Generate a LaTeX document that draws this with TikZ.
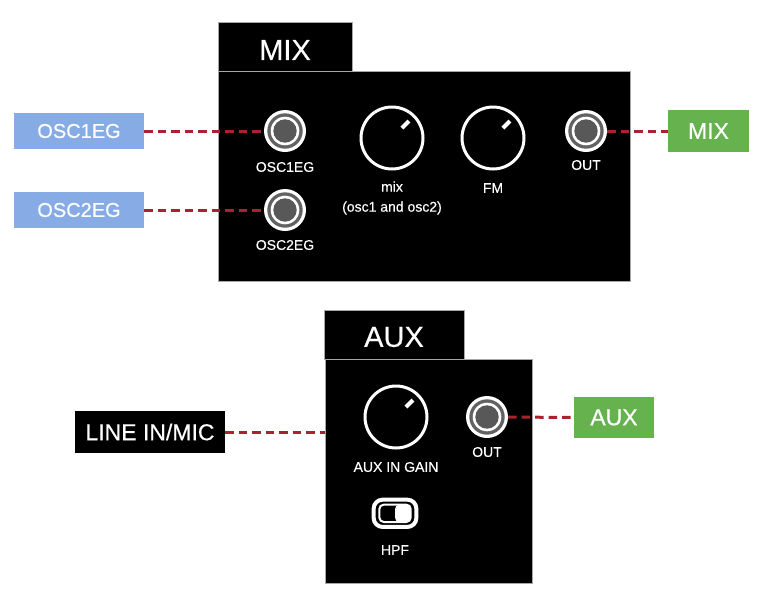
\documentclass[tikz,border=0pt]{standalone}
\usepackage{fontspec}
\setmainfont{Liberation Sans}[FakeBold=0.4]
\definecolor{oscblue}{HTML}{86ABE5}
\definecolor{outgreen}{HTML}{65B24F}
\definecolor{dashred}{HTML}{A8232F}
\definecolor{jackring}{HTML}{626262}
\definecolor{jackcore}{HTML}{585858}
\tikzset{
  panel/.style={rectangle, fill=black, draw=gray!70, line width=0.8pt, inner sep=0pt},
  title/.style={text=white, font=\fontsize{29}{32}\selectfont, inner sep=0pt},
  lbl/.style={text=white, font=\fontsize{14}{20}\selectfont, inner sep=0pt, align=center},
  tag/.style={rectangle, text=white, font=\fontsize{20}{24}\selectfont, inner sep=0pt},
  jack/.style={circle, fill=white, minimum size=42pt, inner sep=0pt,
    path picture={
      \fill[jackring] (path picture bounding box.center) circle (17.7pt);
      \fill[white] (path picture bounding box.center) circle (14.3pt);
      \fill[jackcore] (path picture bounding box.center) circle (11.7pt);}},
  knob/.style={circle, draw=white, line width=3pt, minimum size=62pt, inner sep=0pt},
  conn/.style={draw=dashred, line width=3pt, dash pattern=on 8.5pt off 5pt}
}
\begin{document}
\begin{tikzpicture}[x=1pt,y=-1pt]
\useasboundingbox[fill=white] (0,0) rectangle (783,592);

% ---------- MIX module ----------
\node[panel, minimum width=134pt, minimum height=49pt] (mixtab) at (285,46.5) {};
\node[title] (mixtitle) at (285,50) {MIX};
\node[panel, minimum width=412pt, minimum height=210pt] (mixpanel) at (424,176) {};

\node[jack] (j1) at (285,131) {};
\node[lbl] (j1l) at (285,167) {OSC1EG};
\node[jack] (j2) at (285,210) {};
\node[lbl] (j2l) at (285,245) {OSC2EG};
\node[jack] (j3) at (586,131) {};
\node[lbl] (j3l) at (586,165) {OUT};

\node[knob] (kmix) at (392,138) {};
\draw[white, line width=4pt] ([shift={(45:14pt)}]kmix.center) -- ([shift={(45:24pt)}]kmix.center);
\node[lbl] (kmixl) at (392,198) {mix\\(osc1 and osc2)};
\node[knob] (kfm) at (493,138) {};
\draw[white, line width=4pt] ([shift={(45:14pt)}]kfm.center) -- ([shift={(45:24pt)}]kfm.center);
\node[lbl] (kfml) at (493,188) {FM};

% external tags MIX
\node[tag, fill=oscblue, minimum width=130pt, minimum height=36pt] (b1) at (79,131) {OSC1EG};
\node[tag, fill=oscblue, minimum width=130pt, minimum height=36pt] (b2) at (79,210) {OSC2EG};
\node[tag, fill=outgreen, minimum width=81pt, minimum height=42pt, font=\fontsize{23}{26}\selectfont] (gmix) at (708.5,131) {MIX};

\draw[conn] (b1.east) -- (j1.west);
\draw[conn] (b2.east) -- (j2.west);
\draw[conn] (j3.east) -- (gmix.west);

% ---------- AUX module ----------
\node[panel, minimum width=140pt, minimum height=49pt] (auxtab) at (394,334.5) {};
\node[title] (auxtitle) at (394,337) {AUX};
\node[panel, minimum width=207pt, minimum height=224pt] (auxpanel) at (428.5,471) {};

\node[knob] (kaux) at (396,417) {};
\draw[white, line width=4pt] ([shift={(45:14pt)}]kaux.center) -- ([shift={(45:24pt)}]kaux.center);
\node[lbl] (kauxl) at (396,467) {AUX IN GAIN};
\node[jack] (j4) at (487,417) {};
\node[lbl] (j4l) at (487,452) {OUT};

\node[rectangle, rounded corners=9pt, draw=white, line width=4pt, fill=black, minimum width=42.7pt, minimum height=27.3pt, inner sep=0pt] (sw) at (395,513.3) {};
\fill[white, rounded corners=4.5pt] ([shift={(0pt,-8.7pt)}]sw.center) rectangle ([shift={(15.7pt,8.7pt)}]sw.center);
\draw[white, line width=2pt, rounded corners=4.5pt] ([shift={(-15.7pt,-8.7pt)}]sw.center) rectangle ([shift={(15.7pt,8.7pt)}]sw.center);
\node[lbl] (swl) at (395,550) {HPF};

% external tags AUX
\node[tag, fill=black, minimum width=150pt, minimum height=42pt, font=\fontsize{23}{26}\selectfont] (line) at (150,432) {LINE IN/MIC};
\node[tag, fill=outgreen, minimum width=80pt, minimum height=41pt, font=\fontsize{23}{26}\selectfont] (gaux) at (614,417.5) {AUX};

\draw[conn] (line.east) -- (line.east -| auxpanel.west);
\draw[conn] (j4.east) -- (gaux.west);
\end{tikzpicture}
\end{document}
